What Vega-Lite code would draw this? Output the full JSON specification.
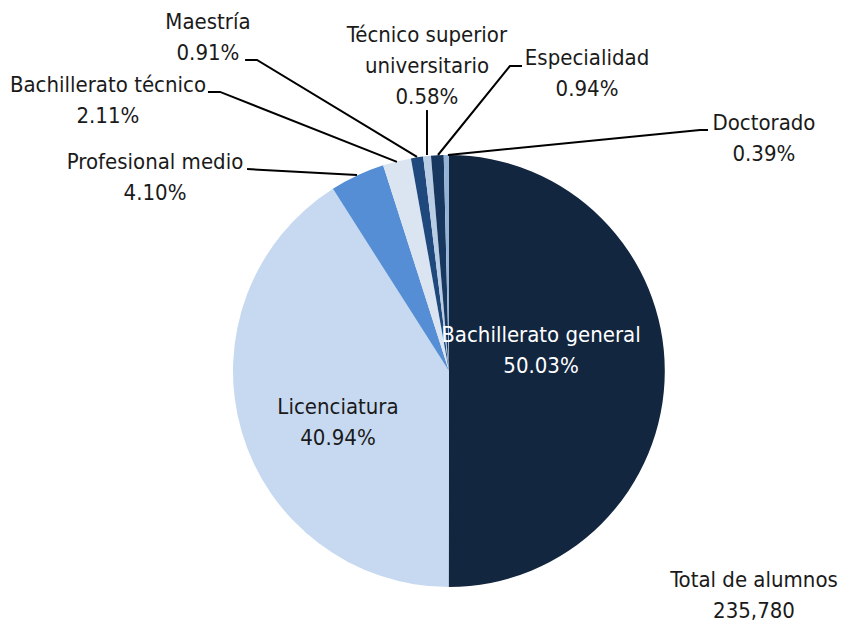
{
  "$schema": "https://vega.github.io/schema/vega-lite/v6.json",
  "width": 845,
  "height": 628,
  "autosize": {"type": "none"},
  "padding": 0,
  "background": "white",
  "config": {"view": {"stroke": null}, "font": "Liberation Sans Narrow, DejaVu Sans Condensed, sans-serif"},
  "datasets": {
    "porcentajes": [
      {"nivel": "Bachillerato general", "pct": 50.03, "orden": 1},
      {"nivel": "Licenciatura", "pct": 40.94, "orden": 2},
      {"nivel": "Profesional medio", "pct": 4.10, "orden": 3},
      {"nivel": "Bachillerato técnico", "pct": 2.11, "orden": 4},
      {"nivel": "Maestría", "pct": 0.91, "orden": 5},
      {"nivel": "Técnico superior universitario", "pct": 0.58, "orden": 6},
      {"nivel": "Especialidad", "pct": 0.94, "orden": 7},
      {"nivel": "Doctorado", "pct": 0.39, "orden": 8}
    ],
    "etiquetas": [
      {"nivel": "Bachillerato general", "texto": "Bachillerato general\n50.03%", "u": 42.6, "v": 16.7},
      {"nivel": "Licenciatura", "texto": "Licenciatura\n40.94%", "u": -51.4, "v": -16.7},
      {"nivel": "Profesional medio", "texto": "Profesional medio\n4.10%", "u": -136.1, "v": 96.8},
      {"nivel": "Bachillerato técnico", "texto": "Bachillerato técnico\n2.11%", "u": -157.9, "v": 132.4},
      {"nivel": "Maestría", "texto": "Maestría\n0.91%", "u": -111.6, "v": 161.6},
      {"nivel": "Técnico superior universitario", "texto": "Técnico superior\nuniversitario\n0.58%", "u": -10.2, "v": 155.6},
      {"nivel": "Especialidad", "texto": "Especialidad\n0.94%", "u": 63.9, "v": 144.9},
      {"nivel": "Doctorado", "texto": "Doctorado\n0.39%", "u": 145.8, "v": 114.8},
      {"nivel": "Total", "texto": "Total de alumnos\n235,780", "u": 141.2, "v": -96.8}
    ],
    "guias": [
      {"nivel": "Profesional medio", "paso": 1, "u": -93.5, "v": 93.5},
      {"nivel": "Profesional medio", "paso": 2, "u": -42.6, "v": 90.7},
      {"nivel": "Bachillerato técnico", "paso": 1, "u": -111.6, "v": 129.2},
      {"nivel": "Bachillerato técnico", "paso": 2, "u": -106.0, "v": 129.2},
      {"nivel": "Bachillerato técnico", "paso": 3, "u": -24.1, "v": 96.8},
      {"nivel": "Maestría", "paso": 1, "u": -94.4, "v": 144.0},
      {"nivel": "Maestría", "paso": 2, "u": -88.9, "v": 144.0},
      {"nivel": "Maestría", "paso": 3, "u": -14.8, "v": 99.1},
      {"nivel": "Técnico superior universitario", "paso": 1, "u": -10.2, "v": 120.8},
      {"nivel": "Técnico superior universitario", "paso": 2, "u": -10.2, "v": 100.0},
      {"nivel": "Especialidad", "paso": 1, "u": 33.8, "v": 141.2},
      {"nivel": "Especialidad", "paso": 2, "u": 28.2, "v": 141.2},
      {"nivel": "Especialidad", "paso": 3, "u": -5.1, "v": 100.0},
      {"nivel": "Doctorado", "paso": 1, "u": 119.9, "v": 111.6},
      {"nivel": "Doctorado", "paso": 2, "u": 116.2, "v": 111.6},
      {"nivel": "Doctorado", "paso": 3, "u": -0.5, "v": 100.0}
    ]
  },
  "layer": [
    {
      "data": {"name": "porcentajes"},
      "mark": {"type": "arc", "radius": 216},
      "encoding": {
        "theta": {"field": "pct", "type": "quantitative", "stack": true},
        "order": {"field": "orden", "type": "quantitative"},
        "color": {
          "field": "nivel",
          "type": "nominal",
          "legend": null,
          "scale": {
            "domain": ["Bachillerato general", "Licenciatura", "Profesional medio", "Bachillerato técnico", "Maestría", "Técnico superior universitario", "Especialidad", "Doctorado"],
            "range": ["#13263f", "#c6d9f1", "#558ed5", "#dbe5f1", "#1f497d", "#b9cde5", "#17375e", "#95b3d7"]
          }
        },
        "x": {"datum": 0, "type": "quantitative", "scale": {"domain": [-207.87, 183.33], "nice": false, "zero": false}, "axis": null},
        "y": {"datum": 0, "type": "quantitative", "scale": {"domain": [-118.98, 171.76], "nice": false, "zero": false}, "axis": null}
      }
    },
    {
      "data": {"name": "guias"},
      "mark": {"type": "line", "color": "black", "strokeWidth": 2, "interpolate": "linear"},
      "encoding": {
        "x": {"field": "u", "type": "quantitative"},
        "y": {"field": "v", "type": "quantitative"},
        "detail": {"field": "nivel", "type": "nominal"},
        "order": {"field": "paso", "type": "quantitative"}
      }
    },
    {
      "data": {"name": "etiquetas"},
      "mark": {"type": "text", "fontSize": 22, "lineHeight": 31, "lineBreak": "\n", "align": "center", "baseline": "middle"},
      "encoding": {
        "x": {"field": "u", "type": "quantitative"},
        "y": {"field": "v", "type": "quantitative"},
        "text": {"field": "texto"},
        "color": {"condition": {"test": "datum.nivel === 'Bachillerato general'", "value": "white"}, "value": "#1a1a1a"}
      }
    }
  ]
}
